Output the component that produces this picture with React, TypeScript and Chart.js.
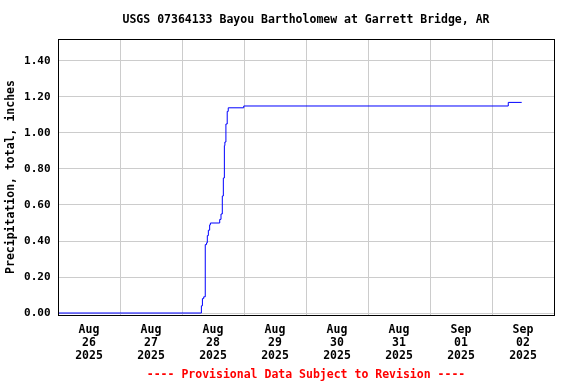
import React, { useEffect, useRef } from "react";
import { Chart, registerables } from "chart.js";

Chart.register(...registerables);

// Hours since 2025-08-26 00:00 and cumulative precipitation (inches)
const hours = [0, 55.5, 55.9, 56.4, 57.0, 57.5, 57.8, 58.2, 58.7, 59.0, 62.6, 63.1, 63.6, 64.0, 64.4, 64.6, 65.0, 65.5, 65.9, 71.9, 174.3, 179.5];
const precip = [0, 0.04, 0.08, 0.09, 0.38, 0.39, 0.43, 0.46, 0.49, 0.5, 0.52, 0.55, 0.65, 0.75, 0.93, 0.95, 1.05, 1.12, 1.14, 1.15, 1.17, 1.17];

const dayLabels = [
  ["Aug", "26", "2025"],
  ["Aug", "27", "2025"],
  ["Aug", "28", "2025"],
  ["Aug", "29", "2025"],
  ["Aug", "30", "2025"],
  ["Aug", "31", "2025"],
  ["Sep", "01", "2025"],
  ["Sep", "02", "2025"],
];
const xTickHours = [0, 24, 48, 72, 96, 120, 144, 168, 192];
const yTickValues = [0, 0.2, 0.4, 0.6, 0.8, 1.0, 1.2, 1.4];
const yMin = -0.0111;
const yMax = 1.5222;

const titleText = "USGS 07364133 Bayou Bartholomew at Garrett Bridge, AR";
const subtitleText = "---- Provisional Data Subject to Revision ----";
const yTitle = "Precipitation, total, inches";

const FONT = "'DejaVu Sans Mono', 'Liberation Mono', monospace";

const frame = {
  id: "frame",
  afterDatasetsDraw(chart: any) {
    const { ctx, chartArea } = chart;
    ctx.save();
    ctx.strokeStyle = "#000";
    ctx.lineWidth = 1;
    const l = Math.floor(chartArea.left) + 0.5;
    const t = Math.floor(chartArea.top) + 0.5;
    const r = Math.floor(chartArea.right) + 0.5;
    const b = Math.floor(chartArea.bottom) + 0.5;
    ctx.strokeRect(l, t, r - l, b - t);
    ctx.restore();
  },
};

export default function App() {
  const ref = useRef<HTMLCanvasElement>(null);
  useEffect(() => {
    document.body.style.margin = "0";
    const chart = new Chart(ref.current!, {
      type: "line",
      data: {
        datasets: [
          {
            data: hours.map((h, i) => ({ x: h, y: precip[i] })),
            borderColor: "#0000ff",
            borderWidth: 1,
            pointRadius: 0,
            stepped: "before",
            fill: false,
          },
        ],
      },
      options: {
        animation: false,
        responsive: false,
        layout: { padding: { left: 0, right: 22, top: 0, bottom: 0 } },
        plugins: {
          legend: { display: false },
          tooltip: { enabled: false },
          title: {
            display: true,
            text: titleText,
            fullSize: false,
            color: "#000",
            font: { family: FONT, size: 11.5, weight: "bold", lineHeight: 1.2 },
            padding: { top: 13.1, bottom: 12.1 },
          },
          subtitle: {
            display: true,
            position: "bottom",
            text: subtitleText,
            fullSize: false,
            color: "#ff0000",
            font: { family: FONT, size: 11.5, weight: "bold", lineHeight: 1.2 },
            padding: { top: 4, bottom: 2 },
          },
        },
        scales: {
          x: {
            type: "linear",
            min: 0,
            max: 192,
            afterBuildTicks: (s: any) => {
              s.ticks = xTickHours.map((v) => ({ value: v }));
            },
            afterFit: (s: any) => {
              s.height = 49.2;
            },
            grid: { color: "#cccccc", drawTicks: false, lineWidth: 1 },
            border: { display: false },
            ticks: {
              autoSkip: false,
              maxRotation: 0,
              minRotation: 0,
              padding: 9,
              labelOffset: 31,
              color: "#000",
              font: { family: FONT, size: 11.5, weight: "bold", lineHeight: 1.113 },
              callback: (_v: any, i: number) => (i < dayLabels.length ? dayLabels[i] : ""),
            },
          },
          y: {
            type: "linear",
            min: yMin,
            max: yMax,
            afterBuildTicks: (s: any) => {
              s.ticks = yTickValues.map((v) => ({ value: v }));
            },
            afterFit: (s: any) => {
              s.width = 58;
            },
            grid: { color: "#cccccc", drawTicks: false, lineWidth: 1 },
            border: { display: false },
            ticks: {
              padding: 7.5,
              color: "#000",
              font: { family: FONT, size: 11, weight: "bold" },
              callback: (v: any) => Number(v).toFixed(2),
            },
            title: {
              display: true,
              text: yTitle,
              color: "#000",
              font: { family: FONT, size: 11.5, weight: "bold", lineHeight: 1.2 },
              padding: { top: 4.6, bottom: 0 },
            },
          },
        },
      },
      plugins: [frame],
    } as any);
    return () => chart.destroy();
  }, []);
  return (
    <div style={{ width: 576, height: 384, background: "#fff" }}>
      <canvas ref={ref} width={576} height={384} />
    </div>
  );
}
